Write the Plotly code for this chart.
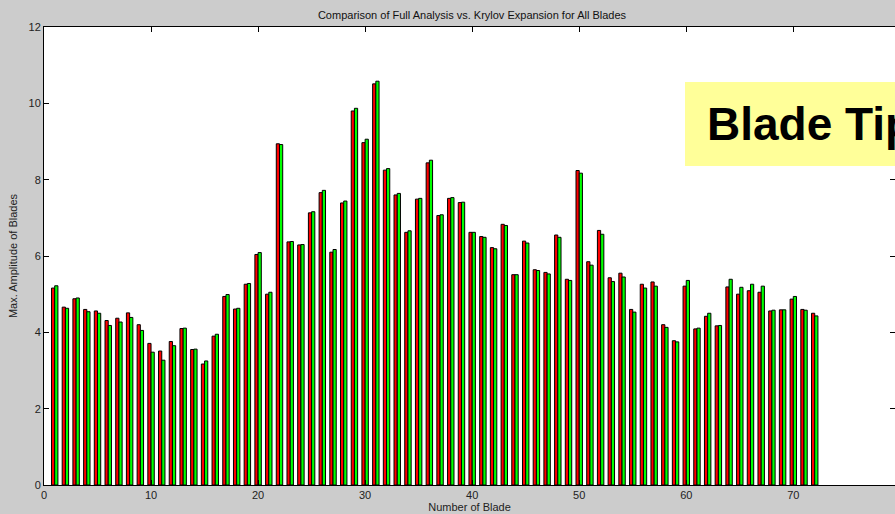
import plotly.graph_objects as go

blades = list(range(1, 73))
full_analysis = [
    5.16, 4.66, 4.88, 4.60, 4.56, 4.31, 4.37, 4.51, 4.20, 3.71,
    3.51, 3.76, 4.10, 3.55, 3.17, 3.90, 4.94, 4.61, 5.26, 6.04,
    5.00, 8.94, 6.37, 6.29, 7.13, 7.66, 6.10, 7.39, 9.80, 8.97,
    10.51, 8.25, 7.60, 6.62, 7.49, 8.44, 7.06, 7.51, 7.40, 6.62,
    6.51, 6.22, 6.83, 5.51, 6.39, 5.64, 5.57, 6.55, 5.39, 8.24,
    5.85, 6.67, 5.43, 5.55, 4.60, 5.26, 5.32, 4.20, 3.78, 5.21,
    4.09, 4.42, 4.17, 5.19, 5.00, 5.09, 5.05, 4.56, 4.59, 4.87,
    4.60, 4.50,
]
krylov = [
    5.22, 4.63, 4.90, 4.54, 4.50, 4.18, 4.27, 4.39, 4.05, 3.48,
    3.27, 3.65, 4.11, 3.56, 3.25, 3.95, 4.99, 4.63, 5.28, 6.09,
    5.05, 8.92, 6.38, 6.30, 7.16, 7.72, 6.17, 7.44, 9.87, 9.06,
    10.58, 8.29, 7.64, 6.66, 7.51, 8.51, 7.08, 7.53, 7.41, 6.62,
    6.49, 6.19, 6.80, 5.51, 6.34, 5.62, 5.53, 6.49, 5.36, 8.17,
    5.76, 6.57, 5.33, 5.45, 4.53, 5.16, 5.21, 4.13, 3.75, 5.36,
    4.11, 4.50, 4.18, 5.39, 5.18, 5.26, 5.21, 4.58, 4.59, 4.94,
    4.58, 4.43,
]
x_ticks = [0, 10, 20, 30, 40, 50, 60, 70, 80]
y_ticks = [0, 2, 4, 6, 8, 10, 12]

FONT = "Liberation Sans Narrow, Arial Narrow, Liberation Sans, Arial, sans-serif"
BIG_FONT = "Liberation Sans, Arial, sans-serif"

fig = go.Figure()
fig.add_trace(go.Bar(x=blades, y=full_analysis, name="Full Analysis",
                     marker=dict(color="#ff0000", line=dict(color="#000000", width=1))))
fig.add_trace(go.Bar(x=blades, y=krylov, name="Krylov Expansion",
                     marker=dict(color="#00ff00", line=dict(color="#000000", width=1))))

fig.update_layout(
    width=895, height=514,
    margin=dict(l=44, r=0, t=27, b=29),
    paper_bgcolor="#cccccc", plot_bgcolor="#ffffff",
    barmode="group", bargap=0.4, bargroupgap=0,
    showlegend=False,
    font=dict(family=FONT, size=11, color="#222222"),
    title=dict(text="Comparison of Full Analysis vs. Krylov Expansion for All Blades",
               x=(472) / 895, xanchor="center", y=1 - 15 / 514, yanchor="middle",
               font=dict(family=FONT, size=11, color="#111111")),
)
fig.update_xaxes(range=[0, 79.5], tickvals=x_ticks, ticks="inside", ticklen=5,
                 tickcolor="#000000", showgrid=False, zeroline=False,
                 showline=True, linecolor="#000000", linewidth=1, mirror="ticks",
                 title=dict(text="Number of Blade", standoff=2,
                            font=dict(family=FONT, size=11)),
                 tickfont=dict(family=FONT, size=11))
fig.update_yaxes(range=[0, 12], tickvals=y_ticks, ticks="inside", ticklen=5,
                 tickcolor="#000000", showgrid=False, zeroline=False,
                 showline=True, linecolor="#000000", linewidth=1, mirror="ticks",
                 title=dict(text="Max. Amplitude of Blades", standoff=8,
                            font=dict(family=FONT, size=11)),
                 tickfont=dict(family=FONT, size=11))

# yellow "Blade Tip" label box
fig.add_shape(type="rect", xref="paper", yref="paper",
              x0=(685 - 44) / 851, x1=1.05,
              y0=1 - (166 - 27) / 458, y1=1 - (82 - 27) / 458,
              fillcolor="#ffff99", line=dict(width=0), layer="above")
fig.add_annotation(text="<b>Blade Tip</b>", xref="paper", yref="paper",
                   x=(705 - 44) / 851, xanchor="left",
                   y=1 - (124 - 27) / 458, yanchor="middle",
                   showarrow=False,
                   font=dict(family=BIG_FONT, size=46, color="#000000"))

fig.write_html("out.html", config={"displayModeBar": False},
               post_script="document.body.style.margin='0';document.body.style.padding='0';")
